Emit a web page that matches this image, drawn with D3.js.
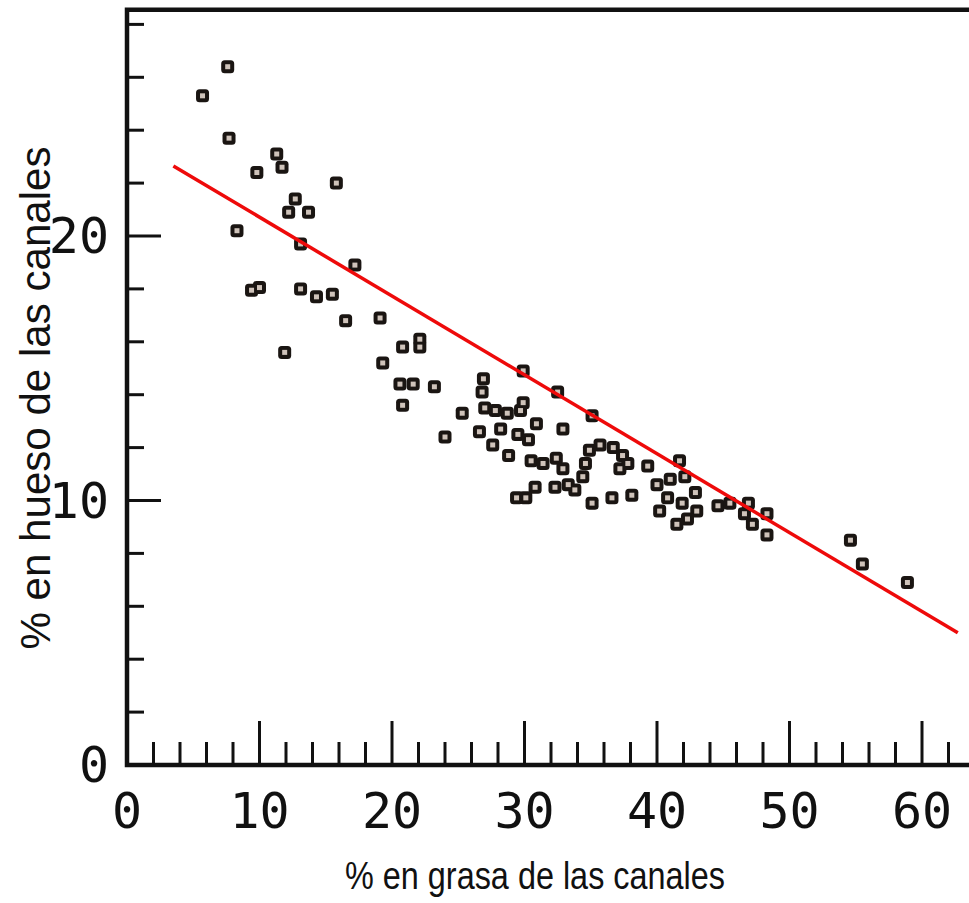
<!DOCTYPE html>
<html>
<head>
<meta charset="utf-8">
<script src="https://cdn.jsdelivr.net/npm/d3@7"></script>
<style>
  body { margin: 0; background: #fff; }
  svg { display: block; }
</style>
</head>
<body>
<div id="chart"></div>
<script>
let width = 969;
let height = 903;

// % fat in carcass (x) and % bone in carcass (y)
let fatPct = [
    7.6, 5.7, 7.7, 11.3, 11.7, 9.8, 15.8, 12.7, 12.2, 13.7, 8.3, 13.1,
    17.2, 9.4, 10.0, 13.1, 14.3, 15.5, 16.5, 19.1, 11.9, 20.8, 22.1, 22.1,
    19.3, 20.6, 21.6, 23.2, 20.8, 25.3, 24.0, 29.9, 32.5, 35.1,
    26.9, 26.8, 27.0, 27.8, 28.7, 29.7, 29.9, 30.9,
    26.6, 28.2, 27.6, 29.5, 30.3, 28.8, 32.9,
    30.5, 31.4, 32.4, 32.9, 33.3, 32.3, 33.8, 34.4, 34.6, 34.9, 35.7, 36.7, 37.4, 37.2, 37.8,
    30.8, 29.4, 30.1, 35.1, 36.6, 38.1, 39.3, 41.7, 42.1, 41.0, 40.0, 40.8,
    42.9, 41.9, 40.2, 43.0, 42.3, 41.5, 44.6, 45.5, 46.9, 46.6, 47.2, 48.3, 48.3,
    54.6, 55.5, 58.9
];
let bonePct = [
    26.4, 25.3, 23.7, 23.1, 22.6, 22.4, 22.0, 21.4, 20.9, 20.9, 20.2, 19.7,
    18.9, 17.95, 18.05, 18.0, 17.7, 17.8, 16.8, 16.9, 15.6, 15.8, 16.1, 15.8,
    15.2, 14.4, 14.4, 14.3, 13.6, 13.3, 12.4, 14.9, 14.1, 13.2,
    14.6, 14.1, 13.5, 13.4, 13.3, 13.4, 13.7, 12.9,
    12.6, 12.7, 12.1, 12.5, 12.3, 11.7, 12.7,
    11.5, 11.4, 11.6, 11.2, 10.6, 10.5, 10.4, 10.9, 11.4, 11.9, 12.1, 12.0, 11.7, 11.2, 11.4,
    10.5, 10.1, 10.1, 9.9, 10.1, 10.2, 11.3, 11.5, 10.9, 10.8, 10.6, 10.1,
    10.3, 9.9, 9.6, 9.6, 9.3, 9.1, 9.8, 9.9, 9.9, 9.5, 9.1, 9.5, 8.7,
    8.5, 7.6, 6.9
];

// fitted line end points
let trendX = [3.5, 62.7];
let trendY = [22.65, 5.0];

let xTickLabels = [0, 10, 20, 30, 40, 50, 60];
let yTickLabels = [0, 10, 20];

let xTitle = "% en grasa de las canales";
let yTitle = "% en hueso de las canales";

let points = fatPct.map((d, i) => ({x: d, y: bonePct[i]}));

let xScale = d3.scaleLinear().domain([0, 60]).range([127, 922]);
let yScale = d3.scaleLinear().domain([0, 20]).range([765, 236]);

let svg = d3.select("#chart")
    .append("svg")
    .attr("width", width)
    .attr("height", height);

let frameTop = yScale(28.55);
let frameLeft = xScale(0);
let frameBottom = yScale(0);

// frame (open on the right, cut by the picture edge)
svg.append("path")
    .attr("d", `M${width},${frameTop}H${frameLeft}V${frameBottom}H${width}`)
    .attr("fill", "none")
    .attr("stroke", "#111")
    .attr("stroke-width", 4.5);

// x ticks, every 2 units, longer every 10
let xTicks = d3.range(2, 64, 2);
svg.append("g").selectAll("line")
    .data(xTicks)
    .join("line")
    .attr("x1", d => xScale(d))
    .attr("x2", d => xScale(d))
    .attr("y1", frameBottom)
    .attr("y2", d => frameBottom - (d % 10 === 0 ? 44 : 23))
    .attr("stroke", "#111")
    .attr("stroke-width", 3);

// y ticks, every 2 units, longer every 10
let yTicks = d3.range(2, 29, 2);
svg.append("g").selectAll("line")
    .data(yTicks)
    .join("line")
    .attr("x1", frameLeft)
    .attr("x2", d => frameLeft + (d % 10 === 0 ? 34 : 17))
    .attr("y1", d => yScale(d))
    .attr("y2", d => yScale(d))
    .attr("stroke", "#111")
    .attr("stroke-width", 3);

// tick labels in plotter style mono font
svg.append("g").selectAll("text")
    .data(xTickLabels)
    .join("text")
    .attr("x", d => xScale(d))
    .attr("y", 828)
    .attr("text-anchor", "middle")
    .attr("font-family", "DejaVu Sans Mono, monospace")
    .attr("font-size", 50)
    .attr("fill", "#111")
    .text(d => d);

svg.append("g").selectAll("text")
    .data(yTickLabels)
    .join("text")
    .attr("x", 109)
    .attr("y", d => yScale(d) + 17)
    .attr("text-anchor", "end")
    .attr("font-family", "DejaVu Sans Mono, monospace")
    .attr("font-size", 50)
    .attr("fill", "#111")
    .text(d => d);

// axis titles
svg.append("text")
    .attr("x", 535)
    .attr("y", 889)
    .attr("text-anchor", "middle")
    .attr("font-family", "Liberation Sans, Arial, sans-serif")
    .attr("font-size", 38)
    .attr("textLength", 380)
    .attr("lengthAdjust", "spacingAndGlyphs")
    .attr("fill", "#111")
    .text(xTitle);

svg.append("text")
    .attr("transform", "translate(50,398) rotate(-90)")
    .attr("text-anchor", "middle")
    .attr("font-family", "Liberation Sans, Arial, sans-serif")
    .attr("font-size", 42)
    .attr("textLength", 503)
    .attr("lengthAdjust", "spacingAndGlyphs")
    .attr("fill", "#111")
    .text(yTitle);

// markers: dark outline layer then light centre layer
let markers = svg.append("g");
markers.selectAll(".outer")
    .data(points)
    .join("rect")
    .attr("class", "outer")
    .attr("x", d => xScale(d.x) - 6.5)
    .attr("y", d => yScale(d.y) - 6.5)
    .attr("width", 13)
    .attr("height", 13)
    .attr("rx", 3.5)
    .attr("fill", "#1a1512");

markers.selectAll(".inner")
    .data(points)
    .join("rect")
    .attr("class", "inner")
    .attr("x", d => xScale(d.x) - 2.5)
    .attr("y", d => yScale(d.y) - 2.5)
    .attr("width", 5)
    .attr("height", 5)
    .attr("fill", "#cfc3ba");

// red fitted line
svg.append("line")
    .attr("x1", xScale(trendX[0]))
    .attr("y1", yScale(trendY[0]))
    .attr("x2", xScale(trendX[1]))
    .attr("y2", yScale(trendY[1]))
    .attr("stroke", "#ee0a0a")
    .attr("stroke-width", 3.5);
</script>
</body>
</html>
